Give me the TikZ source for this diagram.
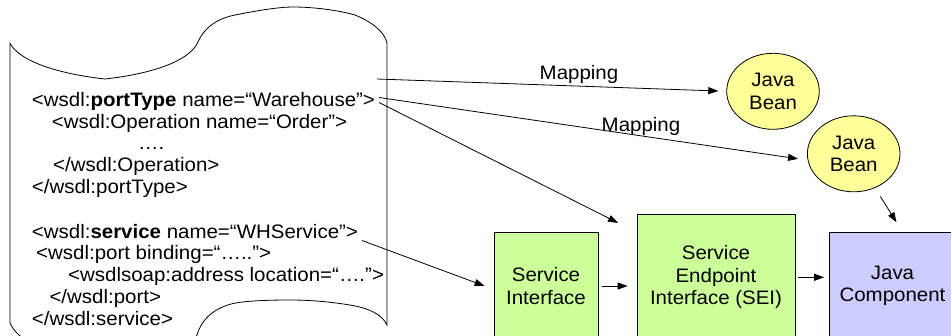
\documentclass[tikz,border=0pt]{standalone}
\usepackage{fontspec}
\setmainfont{Liberation Sans}[FakeStretch=1.05]
\usetikzlibrary{arrows.meta,shapes.geometric,calc}
\definecolor{boxgreen}{HTML}{CCFF99}
\definecolor{boxblue}{HTML}{CCCCFF}
\definecolor{beanyellow}{HTML}{FFFF99}
\begin{document}
\begin{tikzpicture}[x=1pt,y=-1pt,
  every node/.style={font=\fontsize{19.5}{22.5}\selectfont},
  code/.style={anchor=base west,inner sep=0pt},
  arr/.style={-{Triangle[length=10pt,width=7pt]},line width=0.8pt},
  bean/.style={ellipse,draw,line width=0.8pt,fill=beanyellow,minimum width=92.6pt,minimum height=76pt,inner sep=0pt,align=center},
  blk/.style={rectangle,draw,line width=0.8pt,align=center,inner sep=0pt},
  lbl/.style={anchor=base,inner sep=0pt}]
\useasboundingbox (0,0) rectangle (951,335);
\clip (0,0) rectangle (951,335);
\fill[white] (0,0) rectangle (951,335);

% document shape
\draw[line width=0.8pt] (10,43.3)
  .. controls (20,62) and (60,74) .. (105,79)
  .. controls (150,74) and (187,62) .. (197,44)
  .. controls (205,25) and (220,18) .. (235,15)
  .. controls (260,10) and (280,7) .. (293,7)
  .. controls (320,7) and (345,12) .. (355,15)
  .. controls (372,22) and (385,32) .. (387,43.3)
  -- (387,325)
  .. controls (382,314) and (368,308) .. (350,305)
  .. controls (325,301) and (305,300) .. (290,300)
  .. controls (265,300) and (245,301) .. (233,303.5)
  .. controls (215,308) and (202,318) .. (197,335)
  .. controls (192,352) and (150,358) .. (105,360)
  .. controls (60,358) and (20,346) .. (10,323)
  -- cycle;

% code text
\node[code] (l1) at (31.7,106) {<wsdl:\textbf{portType} name=“Warehouse”>};
\node[code] (l2) at (51.7,128) {<wsdl:Operation name=“Order”>};
\node[code] (l3) at (138,149.5) {….};
\node[code] (l4) at (53,171.5) {</wsdl:Operation>};
\node[code] (l5) at (31.7,193) {</wsdl:portType>};
\node[code] (l6) at (31.7,238) {<wsdl:\textbf{service} name=“WHService”>};
\node[code] (l7) at (36,259.5) {<wsdl:port binding=“…..”>};
\node[code] (l8) at (68,281.5) {<wsdlsoap:address location=“….”>};
\node[code] (l9) at (49.3,303) {</wsdl:port>};
\node[code] (l10) at (31.7,325) {</wsdl:service>};

% boxes
\node[blk,fill=boxgreen,minimum width=104pt,minimum height=108pt] (si) at (546,286) {Service\\Interface};
\node[blk,fill=boxgreen,minimum width=158pt,minimum height=126.6pt] (sei) at (716,277.3) {Service\\Endpoint\\Interface (SEI)};
\node[blk,fill=boxblue,minimum width=126pt,minimum height=108pt] (jc) at (892.5,286) {Java\\Component};

% beans
\node[bean] (jb1) at (773,91.3) {Java\\Bean};
\node[bean] (jb2) at (853.7,153.8) {Java\\Bean};

% arrow start points
\coordinate (s1) at (377,79);
\coordinate (s2) at (379,97.5);
\coordinate (s3) at (379,102.5);
\coordinate (s4) at (362,240.5);

% connectors
\draw[arr,shorten >=8pt] (s1) -- (jb1.west);
\draw[arr] (s2) -- ([xshift=-9pt,yshift=-5pt]jb2.west);
\draw[arr] (s3) -- ([xshift=-18.5pt,yshift=-9.3pt]sei.north west);
\draw[arr] (s4) -- ([xshift=-9pt]si.west);
\draw[arr,shorten <=4pt,shorten >=9pt] (si.east) -- (si.east -| sei.west);
\draw[arr,shorten <=3pt,shorten >=5pt] (sei.east) -- (sei.east -| jc.west);
\draw[arr,shorten <=10pt] (jb2) -- ([xshift=4pt,yshift=9.3pt]jc.north);

% labels
\node[lbl] (m1) at (579,79) {Mapping};
\node[lbl] (m2) at (641,131.5) {Mapping};
\end{tikzpicture}
\end{document}
